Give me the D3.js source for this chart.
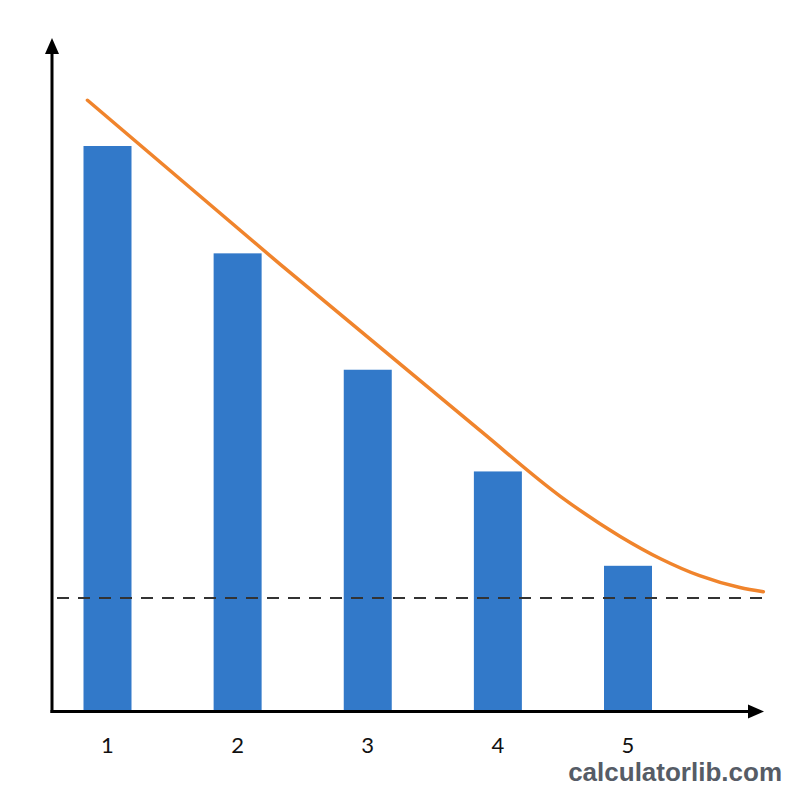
<!DOCTYPE html>
<html>
<head>
<meta charset="utf-8">
<script src="https://cdn.jsdelivr.net/npm/d3@7"></script>
<style>
  html, body { margin: 0; padding: 0; background: #ffffff; }
  svg { display: block; }
</style>
</head>
<body>
<svg id="chart" width="800" height="800"></svg>
<script>
// ---- data ----
const categories = [1, 2, 3, 4, 5];
const barValues = [100, 81, 60.4, 42.4, 25.7];
const thresholdValue = 20;
const curveX = [0.846, 2.33, 3.86, 4.48, 4.94, 5.25, 5.55, 5.86, 6.04];
const curveY = [108.1, 79.0, 49.7, 38.0, 30.9, 26.95, 23.95, 21.85, 21.1];
const tickLabels = ["1", "2", "3", "4", "5"];
const watermark = "calculatorlib.com";

// ---- layout ----
const svg = d3.select("#chart");
const originX = 52, originY = 711.5;
const x = d3.scaleLinear().domain([1, 5]).range([107.5, 628]);
const y = d3.scaleLinear().domain([0, 100]).range([711, 146]);
const barW = 48;

// bars
svg.append("g").selectAll("rect").data(categories).join("rect")
  .attr("x", (d) => x(d) - barW / 2)
  .attr("y", (d, i) => y(barValues[i]))
  .attr("width", barW)
  .attr("height", (d, i) => y(0) - y(barValues[i]))
  .attr("fill", "#3279c9");

// dashed threshold line
svg.append("line")
  .attr("x1", 57).attr("x2", 765)
  .attr("y1", y(thresholdValue)).attr("y2", y(thresholdValue))
  .attr("stroke", "#333").attr("stroke-width", 2.2)
  .attr("stroke-dasharray", "12,9");

// orange curve
const pts = curveX.map((v, i) => [v, curveY[i]]);
svg.append("path")
  .datum(pts)
  .attr("d", d3.line().x(d => x(d[0])).y(d => y(d[1])).curve(d3.curveMonotoneX))
  .attr("fill", "none")
  .attr("stroke", "#f0842c")
  .attr("stroke-width", 3.5)
  .attr("stroke-linecap", "round");

// axes
svg.append("line")
  .attr("x1", originX).attr("x2", originX)
  .attr("y1", originY + 1.5).attr("y2", 50)
  .attr("stroke", "#000").attr("stroke-width", 3);
svg.append("line")
  .attr("x1", originX - 1.5).attr("x2", 752)
  .attr("y1", originY).attr("y2", originY)
  .attr("stroke", "#000").attr("stroke-width", 3);
// arrowheads
svg.append("path")
  .attr("d", `M${originX},38 L${originX - 7},54 L${originX + 7},54 Z`)
  .attr("fill", "#000");
svg.append("path")
  .attr("d", `M764,${originY} L748,${originY - 7} L748,${originY + 7} Z`)
  .attr("fill", "#000");

// tick labels
svg.append("g").selectAll("text").data(categories).join("text")
  .attr("x", d => x(d))
  .attr("y", 753)
  .attr("text-anchor", "middle")
  .attr("font-family", "Lato, 'Noto Sans', sans-serif")
  .attr("font-size", 22)
  .attr("fill", "#111")
  .text((d, i) => tickLabels[i]);

// watermark
svg.append("text")
  .attr("x", 782).attr("y", 781)
  .attr("text-anchor", "end")
  .attr("font-family", "'Liberation Sans', Arial, sans-serif")
  .attr("font-weight", "bold")
  .attr("font-size", 26)
  .attr("fill", "#565c66")
  .text(watermark);
</script>
</body>
</html>
